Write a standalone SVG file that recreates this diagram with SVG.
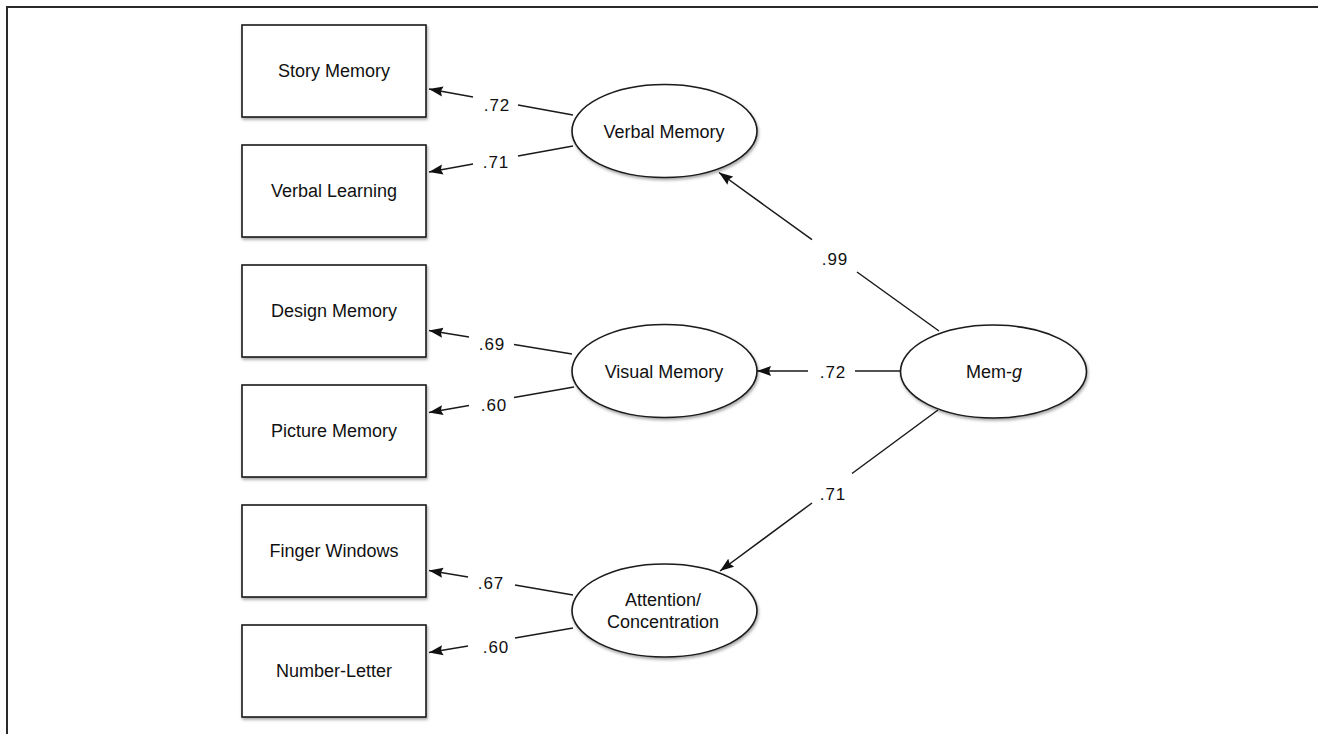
<svg xmlns="http://www.w3.org/2000/svg" width="1318" height="734" viewBox="0 0 1318 734">
  <defs>
    <style>
      .box { fill: #ffffff; stroke: #1a1a1a; stroke-width: 1.6; filter: url(#shadow); }
      .lat { fill: #ffffff; stroke: #1a1a1a; stroke-width: 1.6; filter: url(#shadow); }
      .nt { font-family: "Liberation Sans", Arial, sans-serif; font-size: 18px; fill: #111111; text-anchor: middle; }
      .lb { font-family: "Liberation Sans", Arial, sans-serif; font-size: 17px; letter-spacing: 1px; fill: #111111; text-anchor: middle; }
      .cn { fill: none; stroke: #1a1a1a; stroke-width: 1.5; marker-end: url(#arr); }
      .frame { fill: none; stroke: #2a2a2a; stroke-width: 2; }
    </style>
    <filter id="shadow" x="-10%" y="-10%" width="120%" height="130%">
      <feDropShadow dx="1" dy="2" stdDeviation="1.5" flood-color="#000" flood-opacity="0.35"/>
    </filter>
    <marker id="arr" markerUnits="userSpaceOnUse" markerWidth="15" markerHeight="11" refX="14" refY="5.5" orient="auto">
      <path d="M0,0.5 L14,5.5 L0,10.5 L2,5.5 z" fill="#111"/>
    </marker>
  </defs>
  <rect width="1318" height="734" fill="#ffffff"/>
  <path class="frame" d="M7,734 L7,7 L1318,7"/>

  <g id="connectors">
    <path class="cn" d="M573,115 L518,105.1 M473,96.9 L429,89"/>
    <path class="cn" d="M573,146 L518,155.9 M473,164.1 L429,172"/>
    <path class="cn" d="M572,354 L514,344.5 M469,337 L429,330.5"/>
    <path class="cn" d="M574,387 L514,397.5 M469,405.5 L429,412.5"/>
    <path class="cn" d="M573,595 L515,585 M468,577 L429,570.5"/>
    <path class="cn" d="M573,628 L515,638 M468,646 L429,652.5"/>
    <path class="cn" d="M939,331 L857,272 M812,239.7 L719,172.5"/>
    <path class="cn" d="M900,371 L855,371 M808,371 L757,371"/>
    <path class="cn" d="M938,410 L852,473.5 M812,503 L720,571"/>
  </g>

  <g id="labels">
    <text class="lb" x="497" y="111">.72</text>
    <text class="lb" x="496" y="168">.71</text>
    <text class="lb" x="492" y="350">.69</text>
    <text class="lb" x="494" y="411">.60</text>
    <text class="lb" x="491" y="589">.67</text>
    <text class="lb" x="496" y="653">.60</text>
    <text class="lb" x="835" y="265">.99</text>
    <text class="lb" x="833" y="378">.72</text>
    <text class="lb" x="833" y="500">.71</text>
  </g>

  <g id="story-memory">
    <rect class="box" x="242" y="25" width="184" height="92"/>
    <text class="nt" x="334" y="77">Story Memory</text>
  </g>
  <g id="verbal-learning">
    <rect class="box" x="242" y="145" width="184" height="92"/>
    <text class="nt" x="334" y="197">Verbal Learning</text>
  </g>
  <g id="design-memory">
    <rect class="box" x="242" y="265" width="184" height="92"/>
    <text class="nt" x="334" y="317">Design Memory</text>
  </g>
  <g id="picture-memory">
    <rect class="box" x="242" y="385" width="184" height="92"/>
    <text class="nt" x="334" y="437">Picture Memory</text>
  </g>
  <g id="finger-windows">
    <rect class="box" x="242" y="505" width="184" height="92"/>
    <text class="nt" x="334" y="557">Finger Windows</text>
  </g>
  <g id="number-letter">
    <rect class="box" x="242" y="625" width="184" height="92"/>
    <text class="nt" x="334" y="677">Number-Letter</text>
  </g>

  <g id="verbal-memory">
    <ellipse class="lat" cx="664.5" cy="131" rx="92.5" ry="46.5"/>
    <text class="nt" x="664" y="138">Verbal Memory</text>
  </g>
  <g id="visual-memory">
    <ellipse class="lat" cx="664.5" cy="371" rx="92.5" ry="46.5"/>
    <text class="nt" x="664" y="378">Visual Memory</text>
  </g>
  <g id="attention-concentration">
    <ellipse class="lat" cx="664.5" cy="610.5" rx="92.5" ry="46.5"/>
    <text class="nt" x="663" y="606">Attention/</text>
    <text class="nt" x="663" y="628">Concentration</text>
  </g>
  <g id="mem-g">
    <ellipse class="lat" cx="993.5" cy="371.5" rx="93" ry="46.5"/>
    <text class="nt" x="994" y="378">Mem-<tspan font-style="italic">g</tspan></text>
  </g>
</svg>
